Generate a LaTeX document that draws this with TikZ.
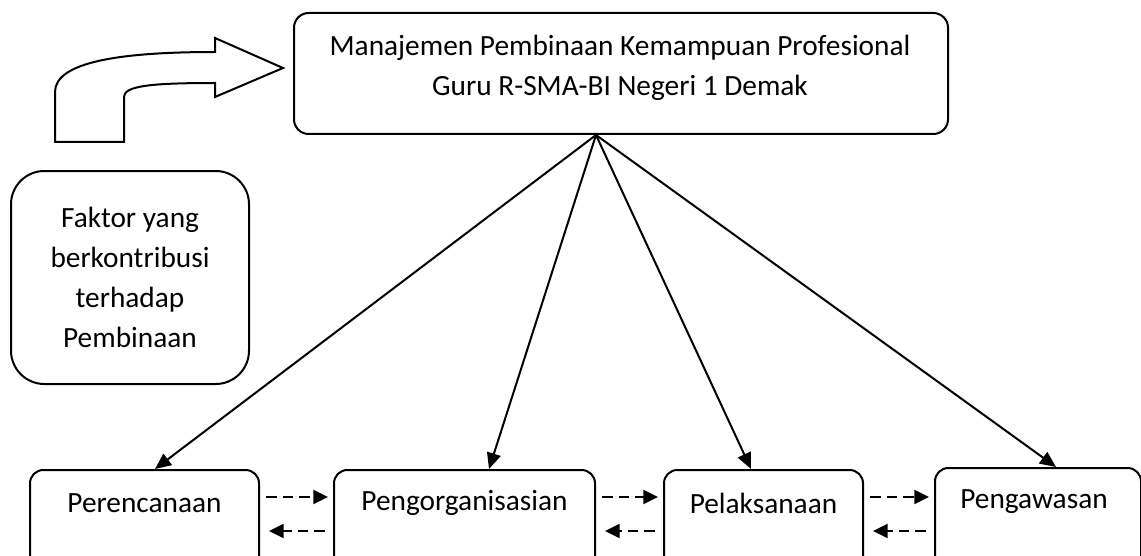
\documentclass[tikz,border=0pt]{standalone}
\usepackage{fontspec}
\setmainfont{Carlito}
\usetikzlibrary{arrows.meta,calc,positioning}

\tikzset{
  box/.style={draw,line width=1.5pt,rounded corners=10pt,inner sep=0pt,anchor=north west},
  lbl/.style={font=\fontsize{22}{30}\selectfont,inner sep=0pt,align=center},
  arr/.style={-{Triangle[length=12pt,width=10.5pt]},line width=1.5pt},
  dasharr/.style={-{Triangle[length=11pt,width=10.5pt]},line width=1.5pt,dash pattern=on 8pt off 4.5pt}
}

\begin{document}
\begin{tikzpicture}[x=0.75pt,y=-0.75pt]
\useasboundingbox (0,0) rectangle (1141,556);
\clip (0,0) rectangle (1141,556);
% main box and factor box
\node[box,rounded corners=11pt,minimum width=490.5pt,minimum height=90.75pt] (mgt) at (293,12) {};
\node[lbl] (mgtT) at (620,68) {Manajemen Pembinaan Kemampuan Profesional\\Guru R-SMA-BI Negeri 1 Demak};
\node[box,rounded corners=25pt,minimum width=178.5pt,minimum height=159.75pt,lbl] (fak) at (10,170) {Faktor yang\\berkontribusi\\terhadap\\Pembinaan};
% bent arrow
\draw[line width=1.5pt] (55,142) -- (55,92) .. controls (55,62) and (120,52) .. (215,52) -- (215,38) -- (283,68)
  -- (215,97) -- (215,83) .. controls (150,83) and (124,86) .. (124,97) -- (124,142) -- cycle;
% bottom boxes
\node[box,minimum width=171.75pt,minimum height=84pt] (per) at (29,469) {};
\node[box,minimum width=195.75pt,minimum height=84pt] (org) at (333,469) {};
\node[box,minimum width=149.25pt,minimum height=84pt] (pel) at (663,469) {};
\node[box,minimum width=154.5pt,minimum height=84pt] (pgw) at (934,467) {};
\node[lbl] (perT) at ([shift={(0,34)}]per.north) {Perencanaan};
\node[lbl] (orgT) at ([shift={(0,34)}]org.north) {Pengorganisasian};
\node[lbl] (pelT) at ([shift={(0,34)}]pel.north) {Pelaksanaan};
\node[lbl] (pgwT) at ([shift={(-4,35)}]pgw.north) {Pengawasan};
% connectors
\coordinate (apex) at ([shift={(-25,0)}]mgt.south);
\draw[arr] (apex) -- ([shift={(10.5,0)}]per.north);
\draw[arr] (apex) -- ([shift={(24.5,0)}]org.north);
\draw[arr] (apex) -- ([shift={(-12.5,0)}]pel.north);
\draw[arr] (apex) -- ([shift={(18,0)}]pgw.north);
\foreach \a/\b in {per/org,org/pel,pel/pgw}{
  \draw[dasharr] ([shift={(6,28)}]\a.north east) -- ([shift={(-5,28)}]\b.north west |- \a.north);
  \draw[dasharr] ([shift={(-8,62)}]\b.north west |- \a.north) -- ([shift={(9,62)}]\a.north east);
}
\end{tikzpicture}
\end{document}
